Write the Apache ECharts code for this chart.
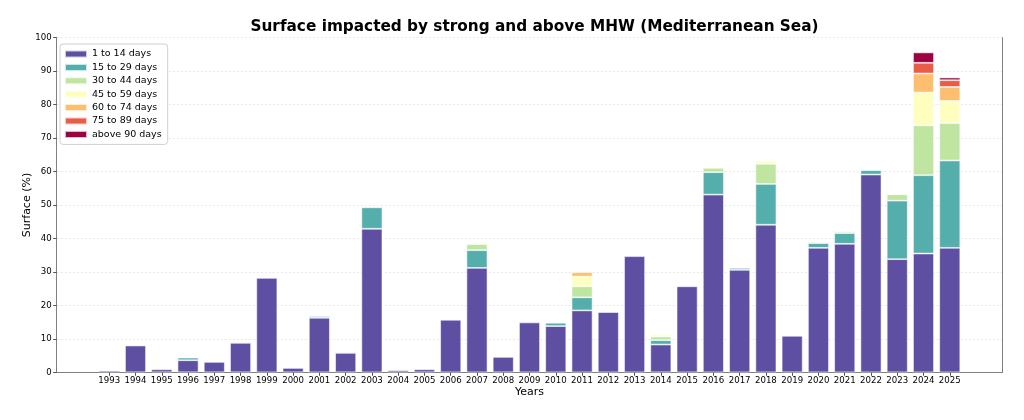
<!DOCTYPE html>
<html>
<head>
<meta charset="utf-8">
<script src="https://cdn.jsdelivr.net/npm/echarts@6/dist/echarts.min.js"></script>
<style>html,body{margin:0;padding:0;background:#fff;}#c{width:1024px;height:420px;}</style>
</head>
<body>
<div id="c"></div>
<script>
const years = [1993,1994,1995,1996,1997,1998,1999,2000,2001,2002,2003,2004,2005,2006,2007,2008,2009,2010,2011,2012,2013,2014,2015,2016,2017,2018,2019,2020,2021,2022,2023,2024,2025];
const seriesNames = ['1 to 14 days','15 to 29 days','30 to 44 days','45 to 59 days','60 to 74 days','75 to 89 days','above 90 days'];
const d1_14  = [0.5,8.0,0.9,3.6,3.1,8.8,28.2,1.3,16.3,5.8,42.9,0.6,0.9,15.7,31.2,4.6,14.9,13.8,18.5,18.0,34.7,8.3,25.7,53.1,30.6,44.1,10.9,37.2,38.4,59.1,33.8,35.5,37.2];
const d15_29 = [0,0,0,0.8,0,0.3,0,0,0.5,0.3,6.4,0,0,0,5.3,0,0,1.0,3.9,0,0,1.3,0,6.7,0.6,12.2,0,1.4,3.2,1.3,17.5,23.4,26.1];
const d30_44 = [0,0,0,0,0,0,0,0,0,0,0,0,0,0,1.8,0,0,0.2,3.3,0,0,1.1,0,1.3,0,6.0,0,0.4,0.5,0,1.9,14.9,11.2];
const d45_59 = [0,0,0,0,0,0,0,0,0,0,0,0,0,0,0.4,0,0,0,2.9,0,0,0.6,0,0.3,0,0.9,0,0.3,0,0,0.2,9.8,6.6];
const d60_74 = [0,0,0,0,0,0,0,0,0,0,0,0,0,0,0,0,0,0,1.3,0,0,0,0,0,0,0,0,0,0,0,0,5.7,4.2];
const d75_89 = [0,0,0,0,0,0,0,0,0,0,0,0,0,0,0,0,0,0,0,0,0,0,0,0,0,0,0,0,0,0,0,3.2,2.0];
const d90    = [0,0,0,0,0,0,0,0,0,0,0,0,0,0,0,0,0,0,0,0,0,0,0,0,0,0,0,0,0,0,0,3.1,0.8];
const yTicks = [0,10,20,30,40,50,60,70,80,90,100];

const colors = ['#5e4fa2','#54aeac','#bfe5a0','#feffbe','#fdbf6f','#e95c47','#9e0142'];
const allData = [d1_14,d15_29,d30_44,d45_59,d60_74,d75_89,d90];

// axis padded by two empty slots each side (matplotlib auto margins)
const pad = 2;
const axisCats = [];
for (let i = 0; i < pad; i++) axisCats.push(String(years[0] - pad + i));
years.forEach(y => axisCats.push(String(y)));
for (let i = 1; i <= pad; i++) axisCats.push(String(years[years.length - 1] + i));
const isReal = idx => idx >= pad && idx < pad + years.length;

const FONT = 'DejaVu Sans';
const chart = echarts.init(document.getElementById('c'), null, {renderer:'canvas'});
const series = allData.map((arr, i) => {
  const data = axisCats.map((c, k) => {
    if (!isReal(k)) return '-';
    const v = arr[k - pad];
    return v > 0 ? v : '-';
  });
  return {
    name: seriesNames[i],
    type: 'bar',
    stack: 'total',
    barWidth: 21,
    data: data,
    itemStyle: { color: colors[i], borderColor: 'rgba(255,255,255,0.7)', borderWidth: 0.8 },
    emphasis: { disabled: true },
    animation: false
  };
});

chart.setOption({
  animation: false,
  backgroundColor: '#fff',
  textStyle: { fontFamily: FONT },
  title: {
    text: 'Surface impacted by strong and above MHW (Mediterranean Sea)',
    left: 529.5, textAlign: 'center', top: 15,
    textStyle: { fontFamily: FONT, fontSize: 15.3, fontWeight: 'bold', color: '#000' }
  },
  legend: {
    orient: 'vertical', left: 60, top: 44,
    itemWidth: 22, itemHeight: 7, itemGap: 1.4,
    padding: [4, 6, 4, 4],
    backgroundColor: 'rgba(255,255,255,0.85)',
    borderColor: '#d0d0d0', borderWidth: 1, borderRadius: 3,
    icon: 'rect',
    textStyle: { fontFamily: FONT, fontSize: 9.5, color: '#000', lineHeight: 12 },
    data: seriesNames
  },
  grid: { left: 56.7, right: 21.7, top: 37.7, bottom: 47.7, show: false },
  xAxis: [{
    type: 'category', data: axisCats, boundaryGap: false,
    name: 'Years', nameLocation: 'middle', nameGap: 14, nameMoveOverlap: false,
    nameTextStyle: { fontFamily: FONT, fontSize: 11, color: '#000' },
    axisLine: { show: true, lineStyle: { color: '#808080' } },
    axisTick: { show: true, length: 3.5, lineStyle: { color: '#555' }, interval: (idx) => isReal(idx) },
    axisLabel: { fontFamily: FONT, fontSize: 8.6, color: '#000', margin: 4, interval: (idx) => isReal(idx) },
    splitLine: { show: false }
  }, {
    type: 'category', data: axisCats, boundaryGap: false, position: 'top',
    axisLine: { show: true, lineStyle: { color: '#808080' } },
    axisTick: { show: false }, axisLabel: { show: false }, splitLine: { show: false }
  }],
  yAxis: [{
    type: 'value', min: 0, max: 100, interval: 10,
    name: 'Surface (%)', nameLocation: 'middle', nameGap: 24, nameMoveOverlap: false,
    nameTextStyle: { fontFamily: FONT, fontSize: 11, color: '#000' },
    axisLine: { show: true, lineStyle: { color: '#808080' } },
    axisTick: { show: true, length: 3.5, lineStyle: { color: '#555' } },
    axisLabel: { fontFamily: FONT, fontSize: 8.6, color: '#000', margin: 5 },
    splitLine: { show: true, lineStyle: { color: '#e2e2e2', type: [2, 2], width: 0.8 } }
  }, {
    type: 'value', min: 0, max: 100, interval: 10, position: 'right',
    axisLine: { show: true, lineStyle: { color: '#808080' } },
    axisTick: { show: false }, axisLabel: { show: false }, splitLine: { show: false }
  }],
  series: series
});
</script>
</body>
</html>
